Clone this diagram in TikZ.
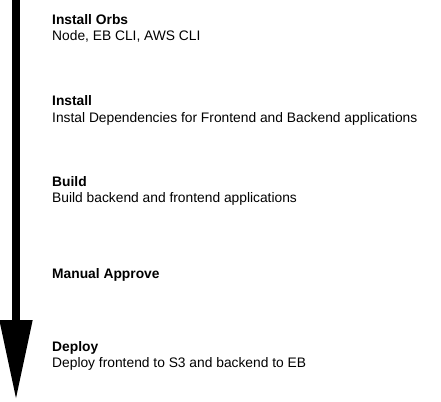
\documentclass[tikz,border=0pt]{standalone}
\usepackage{fontspec}
\setmainfont{Liberation Sans}
\usetikzlibrary{positioning, arrows.meta}

\begin{document}
\begin{tikzpicture}[
    x=1pt, y=1pt,
    stage title/.style={anchor=base west, inner sep=0pt, font=\fontsize{13.8}{16}\selectfont\bfseries},
    stage desc/.style={anchor=base west, inner sep=0pt, font=\fontsize{13.8}{16}\selectfont},
    flow/.style={line width=8pt, -{Triangle[width=31pt, length=80pt]}}
]
\useasboundingbox (0,0) rectangle (441,-401);

% flecha del pipeline
\coordinate (top) at (16,0);
\coordinate (tip) at (16,-400);
\draw[flow] (top) -- (tip);

% etapas
\node[stage title] (orbs) at (52,-25) {Install Orbs};
\node[stage desc, below=16pt of orbs.base west, anchor=base west] (orbsText) {Node, EB CLI, AWS CLI};

\node[stage title] (install) at (52,-106) {Install};
\node[stage desc, below=16pt of install.base west, anchor=base west] (installText) {Instal Dependencies for Frontend and Backend applications};

\node[stage title] (build) at (52,-186.5) {Build};
\node[stage desc, below=16pt of build.base west, anchor=base west] (buildText) {Build backend and frontend applications};

\node[stage title] (approve) at (52,-278) {Manual Approve};

\node[stage title] (deploy) at (52,-351) {Deploy};
\node[stage desc, below=16pt of deploy.base west, anchor=base west] (deployText) {Deploy frontend to S3 and backend to EB};

\end{tikzpicture}
\end{document}
